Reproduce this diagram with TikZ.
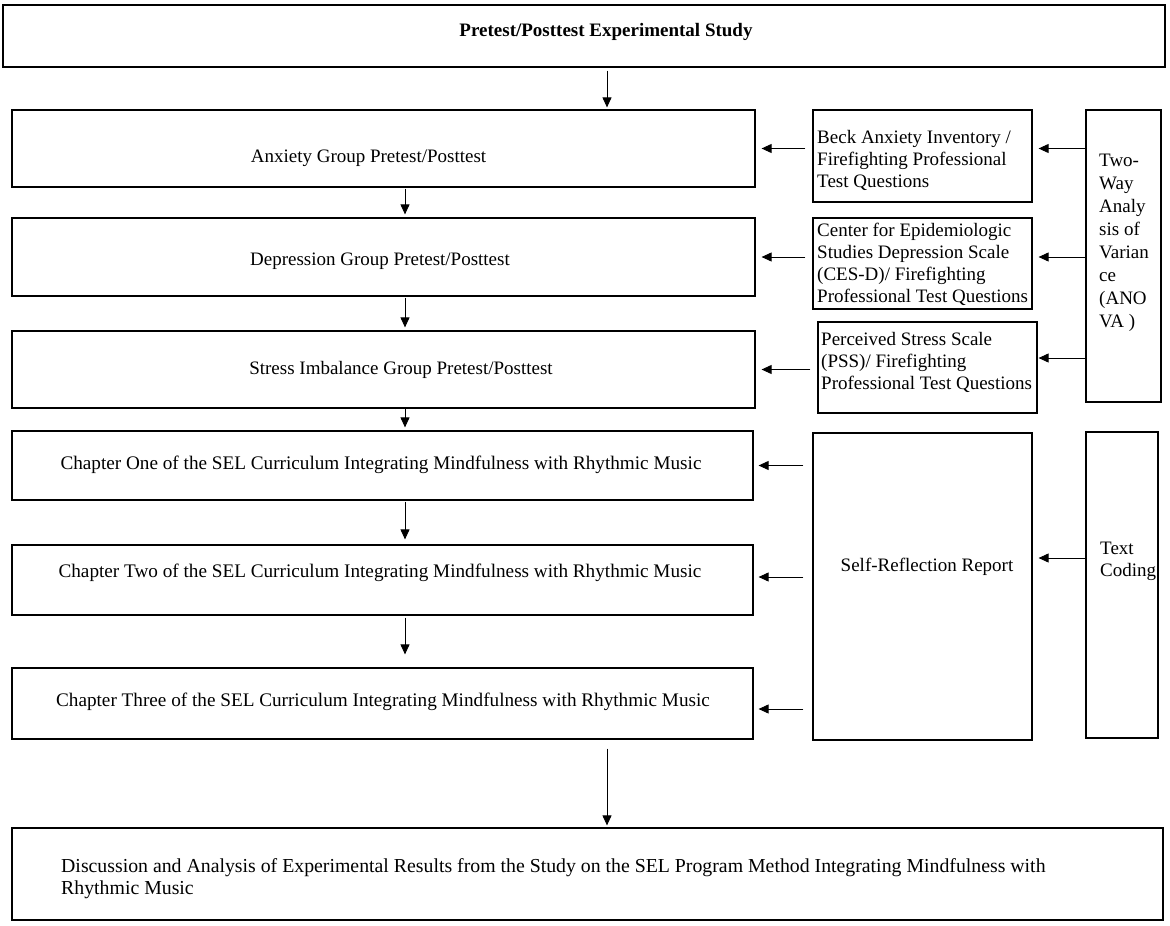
\documentclass[tikz,border=0pt]{standalone}
\usepackage{fontspec}
\setmainfont{Liberation Serif}
\usetikzlibrary{arrows.meta,calc}

\tikzset{
	frame/.style={draw, line width=1.2pt, inner sep=0pt},
	txt/.style={font=\fontsize{19}{22}\selectfont, inner sep=0pt, align=left},
	arr/.style={-{Triangle[length=10pt,width=9pt]}, line width=0.9pt},
	harr/.style={arr, shorten <=7pt, shorten >=6pt}
}

\begin{document}
\begin{tikzpicture}[x=1pt,y=-1pt]
	\useasboundingbox (0,0) rectangle (1170,926);
	\coordinate (mid) at (607,0);
	\coordinate (spine) at (405,0);

	\node[frame, minimum width=1162pt, minimum height=62pt] (study) at (584,36) {};
	\node[frame, minimum width=743pt, minimum height=77pt] (anx) at (383.5,148.5) {};
	\node[frame, minimum width=743pt, minimum height=78pt] (dep) at (383.5,257) {};
	\node[frame, minimum width=743pt, minimum height=77pt] (str) at (383.5,369.5) {};
	\node[frame, minimum width=741pt, minimum height=69pt] (chone) at (382.5,465.5) {};
	\node[frame, minimum width=741pt, minimum height=70pt] (chtwo) at (382.5,580) {};
	\node[frame, minimum width=741pt, minimum height=71pt] (chthree) at (382.5,703.5) {};
	\node[frame, minimum width=1151pt, minimum height=92pt] (result) at (587.5,874) {};
	\node[frame, minimum width=219pt, minimum height=92pt] (bai) at (922.5,156) {};
	\node[frame, minimum width=219pt, minimum height=91pt] (cesd) at (922.5,263.5) {};
	\node[frame, minimum width=219pt, minimum height=91pt] (pss) at (927.5,367.5) {};
	\node[frame, minimum width=75pt, minimum height=292pt] (anova) at (1123.5,256) {};
	\node[frame, minimum width=219pt, minimum height=307pt] (report) at (922.5,586.5) {};
	\node[frame, minimum width=72pt, minimum height=306pt] (coding) at (1122,585) {};

	\node[txt, font=\fontsize{19}{22}\selectfont\bfseries] (studytxt) at (606,32) {Pretest/Posttest Experimental Study};
	\node[txt] (anxtxt) at (368.5,158) {Anxiety Group Pretest/Posttest};
	\node[txt] (deptxt) at (380,261) {Depression Group Pretest/Posttest};
	\node[txt] (strtxt) at (401,370) {Stress Imbalance Group Pretest/Posttest};
	\node[txt, font=\fontsize{19.2}{22}\selectfont] (chonetxt) at (381,465) {Chapter One of the SEL Curriculum Integrating Mindfulness with Rhythmic Music};
	\node[txt, font=\fontsize{19.2}{22}\selectfont] (chtwotxt) at (380,573) {Chapter Two of the SEL Curriculum Integrating Mindfulness with Rhythmic Music};
	\node[txt, font=\fontsize{19.2}{22}\selectfont] (chthreetxt) at (383,702) {Chapter Three of the SEL Curriculum Integrating Mindfulness with Rhythmic Music};
	\node[txt, anchor=west, font=\fontsize{19.8}{22}\selectfont] (resulttxt) at (61,879) {Discussion and Analysis of Experimental Results from the Study on the SEL Program Method Integrating Mindfulness with\\Rhythmic Music};
	\node[txt, anchor=west] (baitxt) at (817,160) {Beck Anxiety Inventory /\\Firefighting Professional\\Test Questions};
	\node[txt, anchor=west] (cesdtxt) at (817,264) {Center for Epidemiologic\\Studies Depression Scale\\(CES-D)/ Firefighting\\Professional Test Questions};
	\node[txt, anchor=west] (psstxt) at (821,362) {Perceived Stress Scale\\(PSS)/ Firefighting\\Professional Test Questions};
	\node[txt, anchor=west, font=\fontsize{19}{23}\selectfont] (anovatxt) at (1099,242.5) {Two-\\Way\\Analy\\sis of\\Varian\\ce\\(ANO\\VA )};
	\node[txt] (reporttxt) at (927,567) {Self-Reflection Report};
	\node[txt, anchor=west] (codingtxt) at (1100,561) {Text\\Coding};

	\draw[arr, shorten <=3pt, shorten >=2pt] (study.south -| mid) -- (anx.north -| mid);
	\draw[arr, shorten <=1pt, shorten >=3pt] (anx.south -| spine) -- (dep.north -| spine);
	\draw[arr, shorten <=1pt, shorten >=3pt] (dep.south -| spine) -- (str.north -| spine);
	\draw[arr, shorten <=0pt, shorten >=3pt] (str.south -| spine) -- (chone.north -| spine);
	\draw[arr, shorten <=1pt, shorten >=5pt] (chone.south -| spine) -- (chtwo.north -| spine);
	\draw[arr, shorten <=2pt, shorten >=13pt] (chtwo.south -| spine) -- (chthree.north -| spine);
	\draw[arr, shorten <=9pt, shorten >=2pt] (chthree.south -| mid) -- (result.north -| mid);

	\draw[harr] (bai.west |- anx.east) -- (anx.east);
	\draw[harr] (cesd.west |- dep.east) -- (dep.east);
	\draw[harr] (pss.west |- str.east) -- (str.east);
	\draw[arr, shorten >=6pt] (anova.west |- anx.east) -- (bai.east |- anx.east);
	\draw[arr, shorten >=6pt] (anova.west |- dep.east) -- (cesd.east |- dep.east);
	\draw[arr, shorten >=1pt] ($(anova.west |- pss.east)+(0,-9.5)$) -- ($(pss.east)+(0,-9.5)$);

	\draw[arr, shorten <=9pt, shorten >=5pt] (report.west |- chone.east) -- (chone.east);
	\draw[arr, shorten <=9pt, shorten >=5pt] ($(report.west |- chtwo.east)+(0,-3)$) -- ($(chtwo.east)+(0,-3)$);
	\draw[arr, shorten <=9pt, shorten >=5pt] ($(report.west |- chthree.east)+(0,5.5)$) -- ($(chthree.east)+(0,5.5)$);
	\draw[arr, shorten >=6pt] ($(coding.west |- report.east)+(0,-28.5)$) -- ($(report.east)+(0,-28.5)$);
\end{tikzpicture}
\end{document}
